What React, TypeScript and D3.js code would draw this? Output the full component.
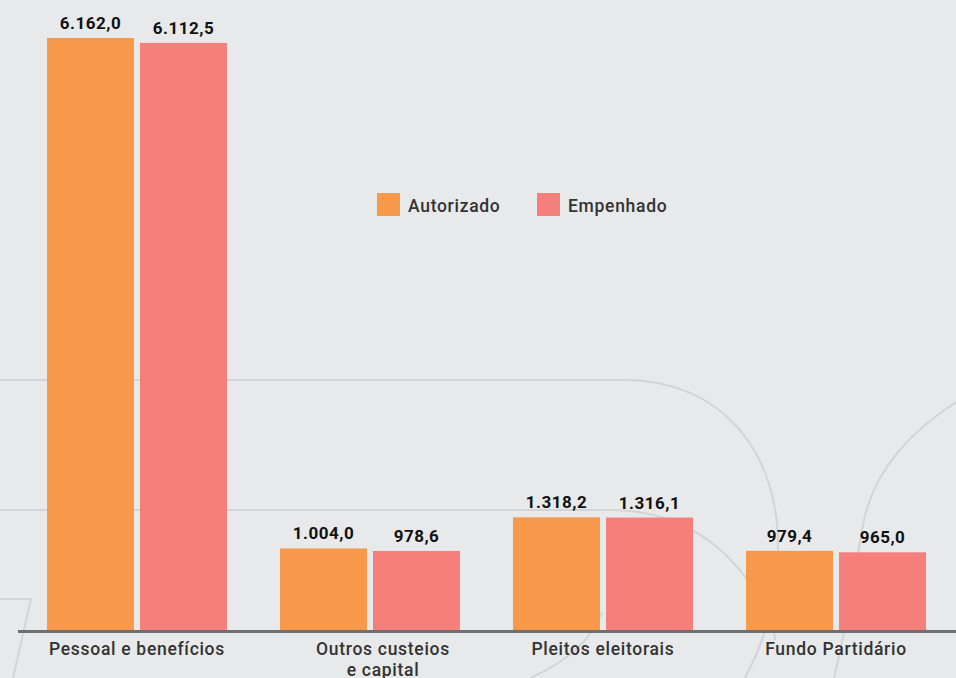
import React from 'react';
import * as d3 from 'd3';

const categories = ['Pessoal e benefícios', 'Outros custeios\ne capital', 'Pleitos eleitorais', 'Fundo Partidário'];
const seriesNames = ['Autorizado', 'Empenhado'];
const autorizado = [6162.0, 1004.0, 1318.2, 979.4];
const empenhado = [6112.5, 978.6, 1316.1, 965.0];
const seriesColors = ['#f7984a', '#f57f7b'];

const W = 956;
const H = 678;
const baseY = 630;
const topY = 38;

const locale = d3.formatLocale({ decimal: ',', thousands: '.', grouping: [3], currency: ['R$', ''] });
const fmt = locale.format(',.1f');

export default function App() {
  const x0 = d3.scaleBand<string>().domain(categories).range([20.5, 952.5]).paddingInner(0.2275).paddingOuter(0.11375);
  const x1 = d3.scaleBand<string>().domain(seriesNames).range([0, x0.bandwidth()]).paddingInner(0.0645).paddingOuter(0);
  const maxV = d3.max([...autorizado, ...empenhado]) as number;
  const y = d3.scaleLinear().domain([180, maxV]).range([baseY, topY]);
  const values = [autorizado, empenhado];

  const deco = '#d3d4d7';
  const font = 'Roboto, "Noto Sans", sans-serif';

  return (
    <svg width={W} height={H} style={{ position: 'absolute', left: 0, top: 0, display: 'block' }}>
      <rect x={0} y={0} width={W} height={H} fill="#e8e9eb" />
      <g fill="none" stroke={deco} strokeWidth={2}>
        <path d="M0,380 H625 C720,380 778,450 778,545 C778,590 770,630 745,678" />
        <path d="M0,510 H615 C690,512 735,555 760,600 C770,620 775,630 775,640" />
        <path d="M602,612 C592,640 566,662 530,678" />
        <path d="M956,402 C905,435 872,475 863,525 C855,570 846,630 834,678" />
        <path d="M0,599 H31 L13,678" />
      </g>
      {categories.map((c, ci) => (
        <g key={c} transform={`translate(${x0(c)},0)`}>
          {seriesNames.map((s, si) => {
            const v = values[si][ci];
            const bx = x1(s) as number;
            const by = y(v);
            return (
              <g key={s}>
                <rect x={bx} y={by} width={x1.bandwidth()} height={baseY - by} fill={seriesColors[si]} />
                <text
                  x={bx + x1.bandwidth() / 2}
                  y={by - 9}
                  textAnchor="middle"
                  fontFamily={font}
                  fontWeight={700}
                  fontSize={17}
                  letterSpacing={0.5}
                  fill="#111"
                >
                  {fmt(v)}
                </text>
              </g>
            );
          })}
        </g>
      ))}
      <line x1={18} x2={W} y1={baseY + 1.5} y2={baseY + 1.5} stroke="#6e6f71" strokeWidth={3} />
      {categories.map((c, ci) => (
        <text
          key={c}
          x={(x0(c) as number) + x0.bandwidth() / 2 + (ci === 1 ? 13 : 0)}
          y={655}
          textAnchor="middle"
          fontFamily={font}
          fontWeight={500}
          fontSize={17.5}
          letterSpacing={0.7}
          fill="#333"
        >
          {c.split('\n').map((line, li) => (
            <tspan key={li} x={(x0(c) as number) + x0.bandwidth() / 2 + (ci === 1 ? 13 : 0)} dy={li === 0 ? 0 : 21}>
              {line}
            </tspan>
          ))}
        </text>
      ))}
      {seriesNames.map((s, si) => {
        const lx = si === 0 ? 377 : 537;
        return (
          <g key={s} transform={`translate(${lx},193)`}>
            <rect x={0} y={0} width={23} height={23} fill={seriesColors[si]} />
            <text x={31} y={19} fontFamily={font} fontWeight={500} fontSize={17.5} letterSpacing={0.7} fill="#333">
              {s}
            </text>
          </g>
        );
      })}
    </svg>
  );
}
